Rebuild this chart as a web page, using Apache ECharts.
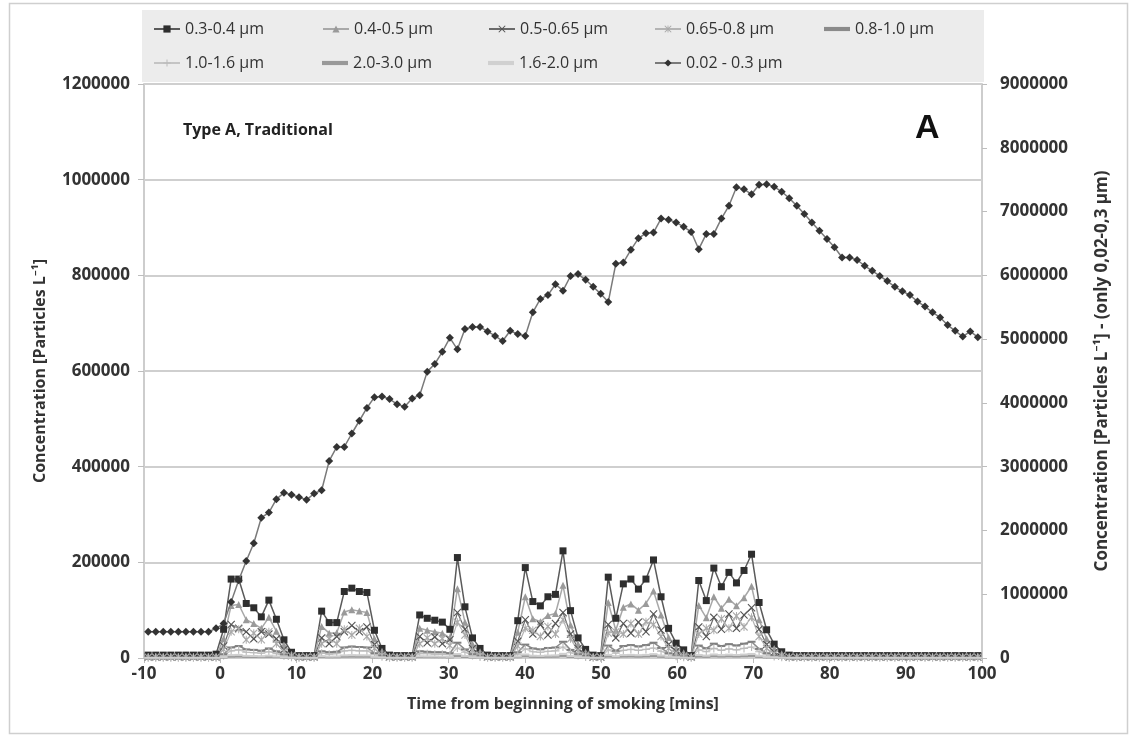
<!DOCTYPE html>
<html>
<head>
<meta charset="utf-8">
<script src="https://cdn.jsdelivr.net/npm/echarts@6/dist/echarts.min.js"></script>
<style>html,body{margin:0;padding:0;background:#fff}#chart{width:1135px;height:740px}</style>
</head>
<body>
<div id="chart"></div>
<script>
// ---- DATA ----
const timeMin = [-9.45,-8.46,-7.47,-6.48,-5.49,-4.5,-3.51,-2.52,-1.53,-0.54,0.45,1.44,2.43,3.42,4.41,5.4,6.39,7.38,8.37,9.36,10.35,11.34,12.33,13.32,14.31,15.3,16.29,17.28,18.27,19.26,20.25,21.24,22.23,23.22,24.21,25.2,26.19,27.18,28.17,29.16,30.15,31.14,32.13,33.12,34.11,35.1,36.09,37.08,38.07,39.06,40.05,41.04,42.03,43.02,44.01,45,45.99,46.98,47.97,48.96,49.95,50.94,51.93,52.92,53.91,54.9,55.89,56.88,57.87,58.86,59.85,60.84,61.83,62.82,63.81,64.8,65.79,66.78,67.77,68.76,69.75,70.74,71.73,72.72,73.71,74.7,75.69,76.68,77.67,78.66,79.65,80.64,81.63,82.62,83.61,84.6,85.59,86.58,87.57,88.56,89.55,90.54,91.53,92.52,93.51,94.5,95.49,96.48,97.47,98.46,99.45];

const s03_04 = [6000,6000,6000,6000,6000,6000,6000,6000,6000,8000,
60000,165000,165000,114000,105000,86000,121000,81000,38000,12000,
5000,5000,5000,98000,74000,74000,139000,146000,139000,137000,
58000,20000,6000,5000,5000,5000,90000,83000,79000,75000,
60000,210000,107000,42000,20000,6000,5000,5000,5000,78000,
189000,118000,109000,128000,133000,224000,99000,42000,18000,6000,
5000,169000,83000,155000,165000,144000,165000,205000,128000,62000,
31000,17000,5000,162000,120000,188000,149000,179000,157000,183000,
217000,116000,59000,29000,13000,6000,5000,5000,5000,5000,
5000,5000,5000,5000,5000,5000,5000,5000,5000,5000,
5000,5000,5000,5000,5000,5000,5000,5000,5000,5000,5000];

const s04_05 = [3000,3000,3000,3000,3000,3000,3000,3000,3000,3000,
40000,110000,112000,80000,72000,62000,85000,56000,27000,8000,
3000,3000,3000,66000,52000,53000,96000,101000,98000,95000,
40000,14000,4000,3000,3000,3000,62000,58000,55000,52000,
42000,145000,75000,29000,13000,3000,3000,3000,3000,54000,
128000,82000,76000,89000,93000,152000,69000,29000,12000,3000,
3000,116000,58000,106000,113000,100000,114000,140000,90000,43000,
21000,11000,3000,110000,84000,128000,104000,123000,109000,126000,
150000,80000,40000,20000,9000,3000,3000,3000,3000,3000,
3000,3000,3000,3000,3000,3000,3000,3000,3000,3000,
3000,3000,3000,3000,3000,3000,3000,3000,3000,3000,3000];

const s05_065 = [2000,2000,2000,2000,2000,2000,2000,2000,2000,2000,
25000,70000,62000,55000,40000,55000,50000,40000,18000,6000,
2000,2000,2000,42000,30000,45000,55000,68000,55000,65000,
28000,9000,2000,2000,2000,2000,45000,32000,44000,30000,
38000,95000,60000,20000,8000,2000,2000,2000,2000,35000,
80000,50000,70000,48000,72000,95000,50000,20000,8000,2000,
2000,70000,42000,72000,52000,75000,55000,92000,58000,28000,
14000,6000,2000,65000,45000,85000,60000,92000,62000,90000,
105000,60000,28000,12000,5000,2000,2000,2000,2000,2000,
2000,2000,2000,2000,2000,2000,2000,2000,2000,2000,
2000,2000,2000,2000,2000,2000,2000,2000,2000,2000,2000];

const s065_08 = [1500,1500,1500,1500,1500,1500,1500,1500,1500,1500,
18000,55000,60000,38000,52000,38000,55000,30000,13000,4000,
1500,1500,1500,30000,40000,30000,60000,48000,62000,45000,
20000,6000,1500,1500,1500,1500,30000,42000,30000,40000,
26000,75000,48000,15000,6000,1500,1500,1500,1500,25000,
62000,58000,45000,66000,50000,80000,40000,15000,6000,1500,
1500,52000,55000,50000,72000,50000,76000,70000,45000,20000,
10000,4000,1500,50000,62000,58000,82000,62000,88000,65000,
85000,45000,20000,9000,4000,1500,1500,1500,1500,1500,
1500,1500,1500,1500,1500,1500,1500,1500,1500,1500,
1500,1500,1500,1500,1500,1500,1500,1500,1500,1500,1500];

const s08_10 = [1000,1000,1000,1000,1000,1000,1000,1000,1000,1000,
8000,22000,25000,18000,17000,15000,20000,14000,7000,2500,
1000,1000,1000,14000,12000,13000,22000,24000,23000,22000,
10000,4000,1000,1000,1000,1000,14000,13000,12000,12000,
10000,32000,18000,8000,3500,1000,1000,1000,1000,12000,
28000,20000,18000,21000,22000,34000,17000,8000,3000,1000,
1000,26000,15000,25000,27000,24000,27000,32000,21000,10000,
5000,2500,1000,26000,20000,30000,25000,29000,26000,30000,
34000,19000,10000,5000,2000,1000,1000,1000,1000,1000,
1000,1000,1000,1000,1000,1000,1000,1000,1000,1000,
1000,1000,1000,1000,1000,1000,1000,1000,1000,1000,1000];

const s10_16 = [600,600,600,600,600,600,600,600,600,600,
5000,15000,17000,12000,11000,10000,13000,9000,4500,1500,
600,600,600,10000,8000,9000,15000,16000,15000,15000,
7000,2500,600,600,600,600,9000,9000,8000,8000,
7000,21000,12000,5000,2000,600,600,600,600,8000,
19000,13000,12000,14000,15000,23000,11000,5000,2000,600,
600,17000,10000,16000,18000,16000,18000,21000,14000,7000,
3500,1500,600,17000,13000,20000,16000,19000,17000,20000,
23000,13000,6500,3000,1500,600,600,600,600,600,
600,600,600,600,600,600,600,600,600,600,
600,600,600,600,600,600,600,600,600,600,600];

const s20_30 = [200,200,200,200,200,200,200,200,200,200,
1000,3000,3500,2500,2300,2000,2700,1800,900,400,
200,200,200,2000,1600,1700,3000,3200,3000,3000,
1300,500,200,200,200,200,1900,1800,1700,1600,
1300,4300,2300,900,400,200,200,200,200,1700,
3900,2500,2300,2700,2800,4600,2100,900,400,200,
200,3500,1800,3200,3400,3000,3400,4200,2700,1300,
700,400,200,3300,2500,3900,3100,3700,3200,3800,
4500,2400,1200,600,300,200,200,200,200,200,
200,200,200,200,200,200,200,200,200,200,
200,200,200,200,200,200,200,200,200,200,200];

const s16_20 = [400,400,400,400,400,400,400,400,400,400,
2000,6000,6500,4500,4200,3600,4900,3300,1600,700,
400,400,400,3800,3000,3100,5500,5900,5600,5500,
2400,900,400,400,400,400,3600,3300,3200,3000,
2500,8200,4300,1700,800,400,400,400,400,3100,
7400,4700,4400,5100,5300,8700,4000,1700,800,400,
400,6600,3400,6100,6500,5700,6500,8000,5100,2500,
1300,700,400,6400,4800,7400,5900,7000,6200,7200,
8500,4600,2400,1200,600,400,400,400,400,400,
400,400,400,400,400,400,400,400,400,400,
400,400,400,400,400,400,400,400,400,400,400];

const s002_03 = [410000,410000,410000,410000,410000,410000,410000,410000,410000,466000,
540000,880000,1220000,1520000,1800000,2200000,2280000,2490000,2590000,2560000,
2520000,2480000,2580000,2630000,3090000,3310000,3310000,3520000,3720000,3920000,
4090000,4100000,4060000,3980000,3940000,4070000,4120000,4490000,4610000,4800000,
5020000,4840000,5160000,5190000,5190000,5120000,5050000,4970000,5130000,5080000,
5050000,5420000,5630000,5690000,5860000,5760000,5990000,6020000,5930000,5820000,
5710000,5580000,6180000,6200000,6400000,6580000,6660000,6670000,6890000,6870000,
6830000,6760000,6680000,6410000,6650000,6650000,6890000,7090000,7380000,7350000,
7270000,7420000,7430000,7390000,7310000,7210000,7090000,6960000,6830000,6700000,
6570000,6440000,6280000,6280000,6240000,6150000,6070000,5990000,5910000,5820000,
5750000,5690000,5590000,5510000,5420000,5340000,5220000,5130000,5040000,5120000,5030000];

const seriesNames = ['0.3-0.4 µm','0.4-0.5 µm','0.5-0.65 µm','0.65-0.8 µm','0.8-1.0 µm','1.0-1.6 µm','2.0-3.0 µm','1.6-2.0 µm','0.02 - 0.3 µm'];
const xTicks = {min: -10, max: 100, step: 10};
const yLeftTicks = {min: 0, max: 1200000, step: 200000};
const yRightTicks = {min: 0, max: 9000000, step: 1000000};

// ---- STYLE ----
const FONT = "'Open Sans', 'Noto Sans', sans-serif";
const SYM_X = 'path://M1,0 L5,4 L9,0 L10,1 L6,5 L10,9 L9,10 L5,6 L1,10 L0,9 L4,5 L0,1 Z';
const SYM_STAR = 'path://M1,0 L5,4 L9,0 L10,1 L6,5 L10,9 L9,10 L5,6 L1,10 L0,9 L4,5 L0,1 Z M4.4,0 H5.6 V10 H4.4 Z';
const SYM_PLUS = 'path://M4.3,0H5.7V4.3H10V5.7H5.7V10H4.3V5.7H0V4.3H4.3Z';
const SYM_DASH = 'path://M0,4H10V6H0Z';
const ICON_LINE = 'path://M0,4.2H10V5.8H0Z';

function pairs(vals){ return timeMin.map((t,i)=>[t, vals[i]]); }

const specs = [
  {data:s03_04, symbol:'rect', size:7, mc:'#2e2e2e', lc:'#5a5a5a', lw:1.5},
  {data:s04_05, symbol:'triangle', size:7, mc:'#9a9a9a', lc:'#a8a8a8', lw:1.5},
  {data:s05_065, symbol:SYM_X, size:8, mc:'#555', lc:'#6a6a6a', lw:1.2},
  {data:s065_08, symbol:SYM_STAR, size:8, mc:'#aaa', lc:'#b4b4b4', lw:1.2},
  {data:s08_10, symbol:SYM_DASH, size:[8,2], mc:'#808080', lc:'#8a8a8a', lw:1.5, icon:ICON_LINE},
  {data:s10_16, symbol:SYM_PLUS, size:8, mc:'#bbb', lc:'#c4c4c4', lw:1.2},
  {data:s20_30, symbol:SYM_DASH, size:[8,2], mc:'#999', lc:'#999', lw:1.2, icon:ICON_LINE},
  {data:s16_20, symbol:SYM_DASH, size:[8,2], mc:'#cfcfcf', lc:'#d0d0d0', lw:1.2, icon:ICON_LINE},
  {data:s002_03, symbol:'diamond', size:8, mc:'#333', lc:'#7a7a7a', lw:1.5, right:true}
];

const series = specs.map((s,i)=>({
  name: seriesNames[i], type:'line', yAxisIndex: s.right?1:0,
  data: pairs(s.data), symbol: s.symbol, symbolSize: s.size, showSymbol:true,
  itemStyle:{color:s.mc}, lineStyle:{color:s.lc, width:s.lw},
  emphasis:{disabled:true}, z: s.right?5:2
}));

const legendPos = [
  [153,21],[322,21],[488,21],[654,21],[824,21],
  [153,55],[322,55],[488,55],[654,55]
];
const legends = seriesNames.map((n,i)=>{
  const item = {name:n};
  if (specs[i].icon) { item.icon = specs[i].icon; item.itemStyle = {color: specs[i].lc}; }
  return {
    data:[item], left:legendPos[i][0], top:legendPos[i][1],
    itemWidth:26, itemHeight:9, itemGap:4, padding:0, selectedMode:false,
    textStyle:{fontFamily:FONT, fontSize:16, color:'#333'}
  };
});

const plainNum = v => String(v);

const chart = echarts.init(document.getElementById('chart'), null, {renderer:'canvas'});
chart.setOption({
  animation:false,
  backgroundColor:'#fff',
  grid:{left:144, right:153, top:84, bottom:82, containLabel:false,
        show:true, borderColor:'#bdbdbd', borderWidth:1.5, backgroundColor:'transparent'},
  legend: legends,
  graphic:[
    {type:'rect', z:-10, shape:{x:9.5,y:3.5,width:1118,height:730}, style:{fill:'none', stroke:'#cfcfcf', lineWidth:1.5}},
    {type:'rect', z:-5, shape:{x:142,y:10,width:842,height:72}, style:{fill:'#ececec'}},
    {type:'text', left:183, top:122, style:{text:'Type A, Traditional', fontFamily:FONT, fontWeight:'bold', fontSize:16, fill:'#222'}},
    {type:'text', left:915, top:112, style:{text:'A', fontFamily:"'Liberation Sans', Arial, sans-serif", fontWeight:'bold', fontSize:34, fill:'#111'}}
  ],
  xAxis:{
    type:'value', min:xTicks.min, max:xTicks.max, interval:xTicks.step,
    name:'Time from beginning of smoking [mins]', nameLocation:'middle', nameGap:38,
    nameTextStyle:{fontFamily:FONT, fontWeight:'bold', fontSize:16, color:'#333'},
    axisLine:{show:false, onZero:false},
    axisTick:{show:true, length:5, lineStyle:{color:'#bdbdbd'}},
    axisLabel:{fontFamily:FONT, fontWeight:'bold', fontSize:17, color:'#333', margin:8, formatter:plainNum},
    splitLine:{show:false}, minorSplitLine:{show:false}
  },
  yAxis:[
    {type:'value', min:yLeftTicks.min, max:yLeftTicks.max, interval:yLeftTicks.step, position:'left',
     name:'Concentration [Particles L⁻¹]', nameLocation:'middle', nameGap:96, nameRotate:90,
     nameTextStyle:{fontFamily:FONT, fontWeight:'bold', fontSize:16, color:'#333'},
     axisLine:{show:false, onZero:false},
     axisTick:{show:true, length:6, lineStyle:{color:'#bdbdbd'}},
     axisLabel:{fontFamily:FONT, fontWeight:'bold', fontSize:17, color:'#333', margin:14, formatter:plainNum},
     splitLine:{show:true, lineStyle:{color:'#cfcfcf', width:2}}},
    {type:'value', min:yRightTicks.min, max:yRightTicks.max, interval:yRightTicks.step, position:'right',
     name:'Concentration [Particles L⁻¹] - (only 0,02-0,3 µm)', nameLocation:'middle', nameGap:112, nameRotate:90,
     nameTextStyle:{fontFamily:FONT, fontWeight:'bold', fontSize:17, color:'#333'},
     axisLine:{show:false, onZero:false},
     axisTick:{show:true, length:5, lineStyle:{color:'#bdbdbd'}},
     axisLabel:{fontFamily:FONT, fontWeight:'bold', fontSize:17, color:'#333', margin:18, formatter:plainNum},
     splitLine:{show:false}}
  ],
  series: series
});
</script>
</body>
</html>
